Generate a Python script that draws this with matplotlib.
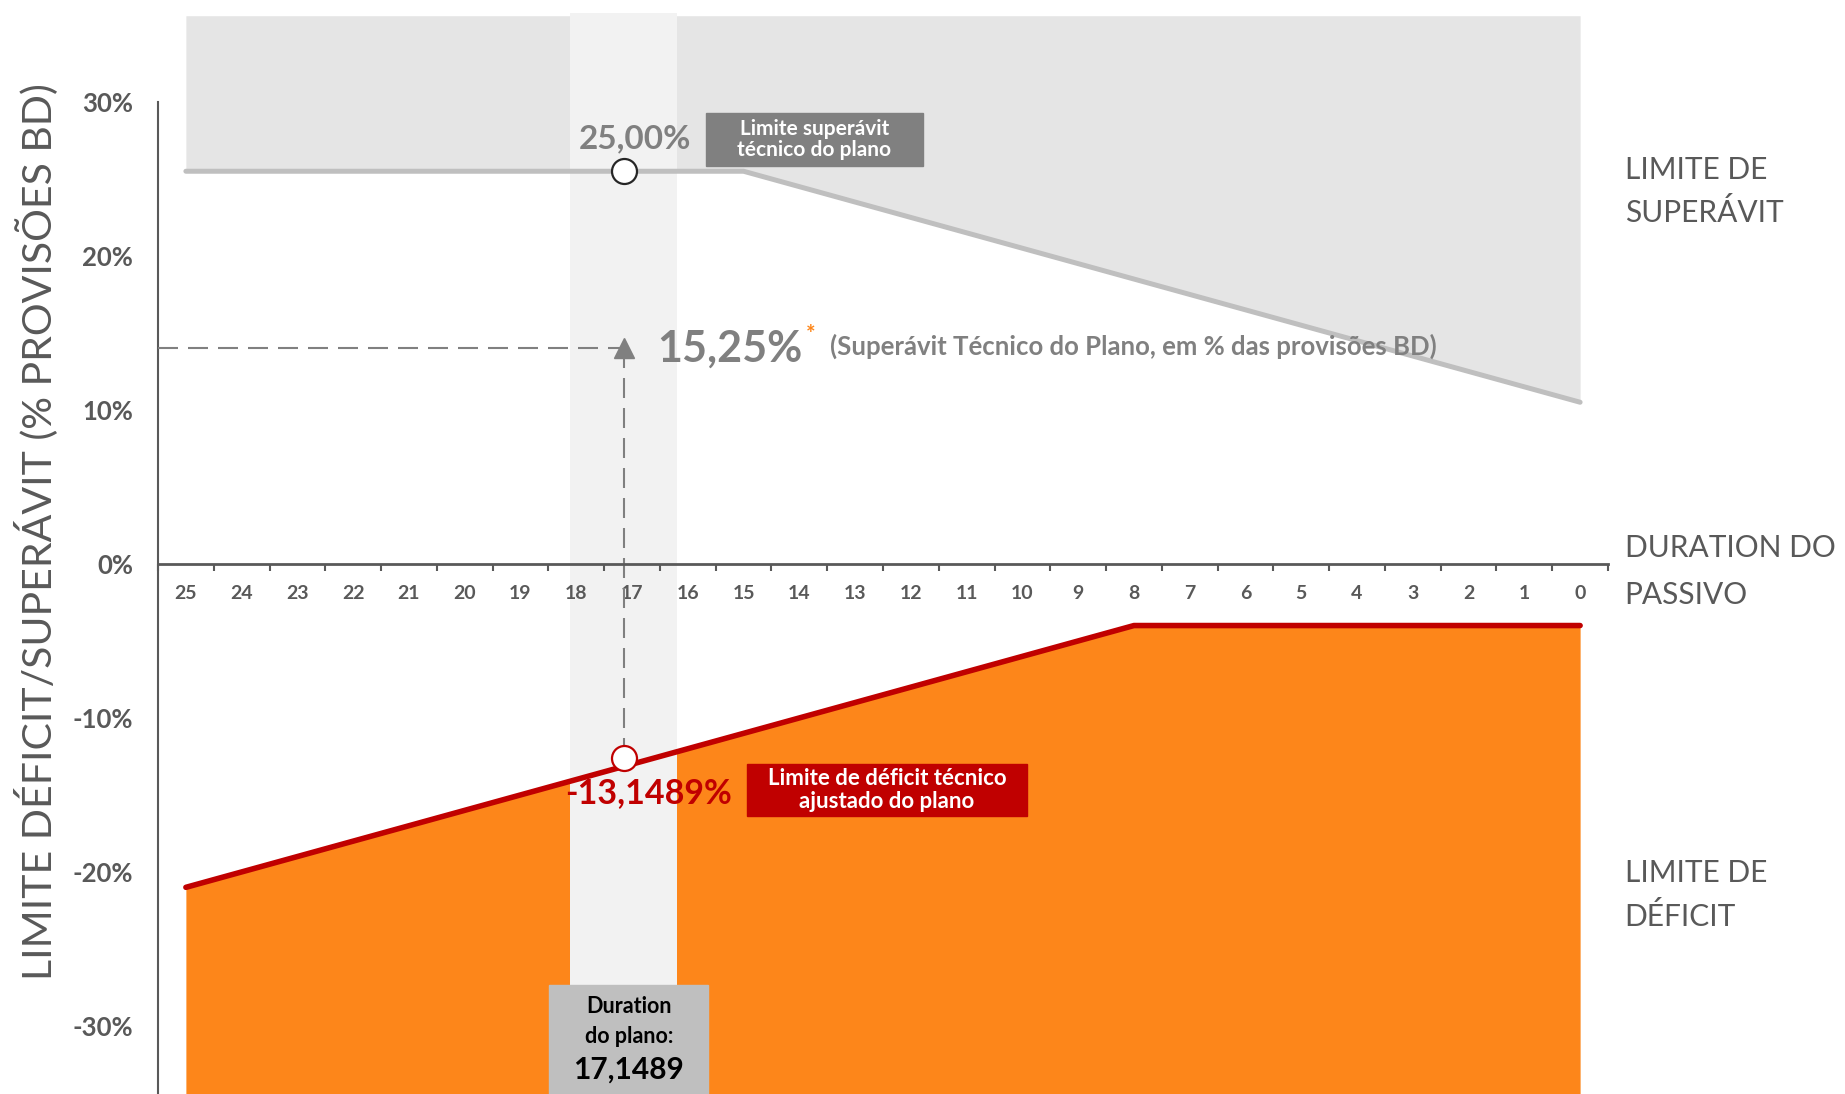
import numpy as np
import matplotlib.pyplot as plt
from matplotlib.patches import Rectangle

# duration do passivo (anos), eixo x invertido
duracao = [25, 24, 23, 22, 21, 20, 19, 18, 17, 16, 15, 14, 13,
           12, 11, 10, 9, 8, 7, 6, 5, 4, 3, 2, 1, 0]
limite_superavit = [25.5, 25.5, 25.5, 25.5, 25.5, 25.5, 25.5, 25.5, 25.5, 25.5, 25.5,
                    24.5, 23.5, 22.5, 21.5, 20.5, 19.5, 18.5, 17.5, 16.5, 15.5,
                    14.5, 13.5, 12.5, 11.5, 10.5]
limite_deficit = [-21, -20, -19, -18, -17, -16, -15, -14, -13, -12, -11, -10, -9,
                  -8, -7, -6, -5, -4, -4, -4, -4, -4, -4, -4, -4, -4]
yticks = [-30, -20, -10, 0, 10, 20, 30]

duration_plano = 17.1489
superavit_plano = 15.25
limite_sup_plano = 25.00
limite_def_plano = -13.1489
# alturas dos marcadores como aparecem no desenho
y_circ_sup = 25.5
y_seta = 14.0
y_circ_def = -12.6

plt.rcParams['font.family'] = ['Lato', 'DejaVu Sans']
CINZA = '#595959'
CINZA_MEDIO = '#808080'
VERMELHO = '#C00000'
LARANJA = '#FD861A'

fig = plt.figure(figsize=(18.45, 10.94), dpi=100)
ax = fig.add_axes([158 / 1845, 0, 1450 / 1845, 1])
ax.set_xlim(25.5, -0.5)
ax.set_ylim(-34.42, 36.62)
ax.set_axisbelow(False)

# areas
ax.fill_between(duracao, limite_superavit, 35.6, color='#E5E5E5', lw=0, zorder=1)
ax.fill_between(duracao, limite_deficit, -34.42, color=LARANJA, lw=0, zorder=1)
ax.fill_between([duration_plano - 0.96, duration_plano + 0.96], -27.34, 35.8,
                color='#F2F2F2', lw=0, zorder=2)

ax.plot(duracao, limite_superavit, color='#BFBFBF', lw=3.6, zorder=3,
        solid_capstyle='round')
ax.plot(duracao, limite_deficit, color=VERMELHO, lw=4, zorder=3,
        solid_capstyle='round')

# linhas tracejadas
ax.plot([25.5, duration_plano], [y_seta, y_seta], color=CINZA_MEDIO, lw=1.5,
        dashes=(9.6, 4.8), zorder=4)
ax.plot([duration_plano, duration_plano], [y_seta, y_circ_def], color=CINZA_MEDIO,
        lw=1.5, dashes=(9.6, 4.8), zorder=4)
ax.plot(duration_plano, y_seta, marker='^', ms=14, color=CINZA_MEDIO, zorder=5)
ax.plot(duration_plano, y_circ_sup, marker='o', ms=18, mfc='white', mec='#262626',
        mew=1.6, zorder=5)
ax.plot(duration_plano, y_circ_def, marker='o', ms=18, mfc='white', mec=VERMELHO,
        mew=1.6, zorder=5)

# eixos
for s in ['top', 'right']:
    ax.spines[s].set_visible(False)
ax.spines['left'].set_bounds(-34.42, 30)
ax.spines['left'].set_color(CINZA)
ax.spines['left'].set_linewidth(1.5)
ax.spines['bottom'].set_position(('data', 0))
ax.spines['bottom'].set_color(CINZA)
ax.spines['bottom'].set_linewidth(2)
ax.spines['bottom'].set_zorder(6)

ax.set_xticks(duracao)
ax.set_xticklabels([str(d) for d in duracao], fontweight='bold')
ax.set_xticks(np.arange(25.5, -1, -1), minor=True)
ax.tick_params(axis='x', which='major', length=0, pad=15, labelsize=14,
               labelcolor=CINZA)
ax.tick_params(axis='x', which='minor', length=5, width=1.5, color=CINZA,
               direction='out')
ax.set_yticks(yticks)
ax.set_yticklabels([f'{v}%' for v in yticks], fontweight='bold')
ax.tick_params(axis='y', length=0, pad=18, labelsize=18.5, labelcolor=CINZA)

# anotacoes
ax.text(16.94, 27.6, f'{limite_sup_plano:.2f}%'.replace('.', ','), color=CINZA_MEDIO,
        fontsize=24, fontweight='bold', ha='center', va='center', zorder=6)
ax.add_patch(Rectangle((11.78, 25.84), 3.89, 3.45, color=CINZA_MEDIO, zorder=6))
ax.text(13.73, 27.56, 'Limite superávit\ntécnico do plano', color='white',
        fontsize=15, fontweight='bold', ha='center', va='center', zorder=7,
        linespacing=1.1)

ax.text(16.55, y_seta, f'{superavit_plano:.2f}%'.replace('.', ','), color=CINZA_MEDIO,
        fontsize=31, fontweight='bold', ha='left', va='center', zorder=6)
ax.text(13.8, 14.9, '*', color=LARANJA, fontsize=16, fontweight='bold',
        ha='center', va='center', zorder=6)
ax.text(13.45, 14.16, '(Superávit Técnico do Plano, em % das provisões BD)',
        color=CINZA_MEDIO, fontsize=18.5, fontweight='bold', ha='left', va='center',
        zorder=6)

ax.text(16.71, -14.87, f'{limite_def_plano:.4f}%'.replace('.', ','), color=VERMELHO,
        fontsize=24.5, fontweight='bold', ha='center', va='center', zorder=6)
ax.add_patch(Rectangle((9.92, -16.36), 5.02, 3.37, color=VERMELHO, zorder=6))
ax.text(12.43, -14.68, 'Limite de déficit técnico\najustado do plano', color='white',
        fontsize=16, fontweight='bold', ha='center', va='center', zorder=7,
        linespacing=1.1)

ax.add_patch(Rectangle((15.64, -34.42), 2.85, 7.08, color='#BFBFBF', zorder=6))
ax.text(17.06, -28.77, 'Duration', color='black', fontsize=15.5, fontweight='bold',
        ha='center', va='center', zorder=7)
ax.text(17.06, -30.71, 'do plano:', color='black', fontsize=15.5, fontweight='bold',
        ha='center', va='center', zorder=7)
ax.text(17.06, -32.86, f'{duration_plano:.4f}'.replace('.', ','), color='black',
        fontsize=21.5, fontweight='bold', ha='center', va='center', zorder=7)

# rotulos a direita
rotulos = [('LIMITE DE', 25.58), ('SUPERÁVIT', 22.79),
           ('DURATION DO', 1.04), ('PASSIVO', -2.01),
           ('LIMITE DE', -20.06), ('DÉFICIT', -22.92)]
for txt, yv in rotulos:
    ax.text(-0.8, yv, txt, color=CINZA, fontsize=21.5, ha='left', va='center')

fig.text(36 / 1845, 1 - 532 / 1094, 'LIMITE DÉFICIT/SUPERÁVIT (% PROVISÕES BD)',
         color=CINZA, fontsize=29.5, rotation=90, ha='center', va='center')

fig.savefig('out.png', dpi=100)
